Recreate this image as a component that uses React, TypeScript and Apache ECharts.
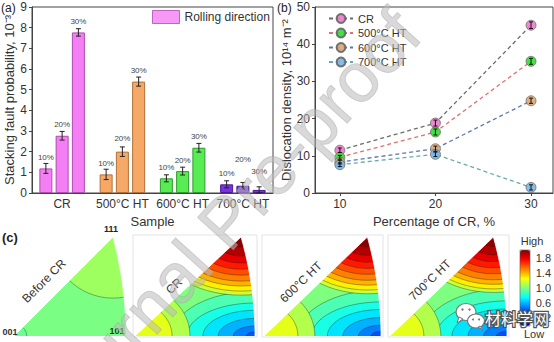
import React, { useEffect, useRef } from 'react';
import * as echarts from 'echarts';

// ---------- (a) stacking fault probability ----------
const samples = ['CR', '500°C HT', '600°C HT', '700°C HT'];
const reductionLabels = ['10%', '20%', '30%'];
const sfp10 = [1.19, 0.9, 0.71, 0.42];
const sfp20 = [2.77, 2.0, 1.06, 0.35];
const sfp30 = [7.77, 5.39, 2.19, 0.15];
const sfpErr10 = [0.24, 0.25, 0.17, 0.17];
const sfpErr20 = [0.21, 0.23, 0.19, 0.16];
const sfpErr30 = [0.18, 0.22, 0.21, 0.15];

// ---------- (b) dislocation density ----------
const crPercent = [10, 20, 30];
const rhoNames = ['CR', '500°C HT', '600°C HT', '700°C HT'];
const rhoCR = [11.5, 18.8, 45.1];
const rho500 = [9.6, 16.4, 35.4];
const rho600 = [8.3, 11.9, 24.8];
const rho700 = [7.6, 10.4, 1.5];
const rhoErrCR = [0.6, 0.8, 0.9];
const rhoErr500 = [0.5, 0.8, 0.8];
const rhoErr600 = [0.5, 0.7, 0.7];
const rhoErr700 = [0.5, 0.6, 0.7];

// ---------- (c) inverse pole figure contour bands: [x, y, rx, ry, level] ----------
const ipfTitles = ['Before CR', 'CR', '600°C HT', '700°C HT'];
const ipfBefore = [
  [0.2, 0.18, 1.0, 1.0, 0.99],
  [0.366, 0.366, 0.229, 0.226, 1.06],
  [0, 0, 0.047, 0.044, 0.96],
];
const ipfCR = [
  [0.2, 0.18, 1.0, 1.0, 1.0],
  [0.4142, 0, 0.285, 0.165, 0.9],
  [0.4142, 0, 0.235, 0.122, 0.8],
  [0.4142, 0, 0.18, 0.095, 0.7],
  [0.4142, 0, 0.127, 0.065, 0.6],
  [0.4142, 0, 0.075, 0.037, 0.5],
  [0.4142, 0, 0.03, 0.015, 0.42],
  [0, 0, 0.19, 0.185, 1.1],
  [0, 0, 0.128, 0.122, 1.2],
  [0.366, 0.366, 0.3, 0.215, 1.15],
  [0.366, 0.366, 0.28, 0.2, 1.28],
  [0.366, 0.366, 0.254, 0.181, 1.4],
  [0.366, 0.366, 0.228, 0.163, 1.5],
  [0.366, 0.366, 0.197, 0.141, 1.6],
  [0.366, 0.366, 0.166, 0.119, 1.7],
  [0.366, 0.366, 0.135, 0.096, 1.8],
  [0.366, 0.366, 0.098, 0.07, 1.9],
  [0.366, 0.366, 0.052, 0.037, 1.98],
];
const ipf600 = [
  [0.2, 0.18, 1.0, 1.0, 1.0],
  [0.4142, 0, 0.295, 0.17, 0.9],
  [0.4142, 0, 0.245, 0.126, 0.8],
  [0.4142, 0, 0.19, 0.098, 0.7],
  [0.4142, 0, 0.135, 0.068, 0.6],
  [0.4142, 0, 0.08, 0.04, 0.5],
  [0.4142, 0, 0.035, 0.017, 0.4],
  [0, 0, 0.18, 0.18, 1.1],
  [0, 0, 0.12, 0.115, 1.2],
  [0.366, 0.366, 0.29, 0.21, 1.15],
  [0.366, 0.366, 0.272, 0.196, 1.28],
  [0.366, 0.366, 0.248, 0.178, 1.4],
  [0.366, 0.366, 0.222, 0.16, 1.5],
  [0.366, 0.366, 0.193, 0.138, 1.6],
  [0.366, 0.366, 0.162, 0.116, 1.7],
  [0.366, 0.366, 0.13, 0.093, 1.8],
  [0.366, 0.366, 0.095, 0.068, 1.9],
  [0.366, 0.366, 0.05, 0.036, 1.98],
];
const ipf700 = [
  [0.2, 0.18, 1.0, 1.0, 1.0],
  [0.4142, 0, 0.3, 0.175, 0.9],
  [0.4142, 0, 0.25, 0.13, 0.8],
  [0.4142, 0, 0.195, 0.1, 0.7],
  [0.4142, 0, 0.138, 0.07, 0.6],
  [0.4142, 0, 0.083, 0.042, 0.5],
  [0.4142, 0, 0.037, 0.018, 0.4],
  [0, 0, 0.18, 0.18, 1.1],
  [0, 0, 0.12, 0.115, 1.2],
  [0.366, 0.366, 0.285, 0.205, 1.15],
  [0.366, 0.366, 0.268, 0.192, 1.28],
  [0.366, 0.366, 0.245, 0.175, 1.4],
  [0.366, 0.366, 0.22, 0.158, 1.5],
  [0.366, 0.366, 0.19, 0.136, 1.6],
  [0.366, 0.366, 0.16, 0.114, 1.7],
  [0.366, 0.366, 0.128, 0.091, 1.8],
  [0.366, 0.366, 0.093, 0.066, 1.9],
  [0.366, 0.366, 0.05, 0.035, 1.98],
];
const ipfFields = [ipfBefore, ipfCR, ipf600, ipf700];
// contour labels: [x, y, text, rotation]
const ipfLabelsBefore = [[0.315, 0.163, '1.008', -12]];
const ipfLabelsCR = [[0.287, 0.158, '1.005', -6], [0.245, 0.108, '0.798', 12]];
const ipfLabels600 = [[0.287, 0.159, '1.005', -6], [0.255, 0.108, '0.798', 12]];
const ipfLabels700 = [[0.29, 0.163, '1.005', -6], [0.2, 0.112, '0.798', 12]];
const ipfLabels = [ipfLabelsBefore, ipfLabelsCR, ipfLabels600, ipfLabels700];
const colorbarTicks = [0.2, 0.6, 1.0, 1.4, 1.8];

// ---------- styles ----------
const FONT = "'Liberation Sans', Arial, Helvetica, sans-serif";
const TXT = '#333';
const sampleFill = ['#f47ef4', '#f6a866', '#56ec52', '#7b30e6'];
const sampleEdge = ['#b04ab0', '#b0703a', '#2f9a2f', '#4a1a99'];
const rhoMarker = ['#ec7ccb', '#33dd33', '#dba673', '#78b6e6'];
const rhoLine = ['#6c6c6c', '#e07272', '#5878b0', '#68aca8'];
const jet = ['#00007f', '#0000ff', '#007fff', '#00ffff', '#7fff7f', '#ffff00', '#ff7f00', '#ff0000', '#7f0000'];
const BAR_W = 13;
const BAR_STEP = 16.25;
const ipfBoxes = [
  { left: 14, top: 237, width: 112, height: 99 },
  { left: 135, top: 237, width: 120, height: 99 },
  { left: 264, top: 237, width: 117, height: 99 },
  { left: 390, top: 237, width: 117, height: 99 },
];
const titlePos = [
  [44, 281, 45],
  [174, 286, 43],
  [301, 282, 44],
  [430, 280, 44],
];

export default function App() {
  const ref = useRef<HTMLDivElement>(null);
  useEffect(() => {
    document.body.style.margin = '0';
    const chart = echarts.init(ref.current as HTMLDivElement, null, { renderer: 'svg' });

    const sfpAll = [sfp10, sfp20, sfp30];
    const errAll = [sfpErr10, sfpErr20, sfpErr30];
    const labelDist = [
      [7, 7, 7, 7],
      [7, 9, 7, 22],
      [7, 7, 7, 14],
    ];
    const barSeries = sfpAll.map((arr, k) => ({
      type: 'bar',
      name: reductionLabels[k],
      xAxisIndex: 0,
      yAxisIndex: 0,
      barWidth: BAR_W,
      barGap: '25%',
      data: arr.map((v, i) => ({
        value: v,
        itemStyle: { color: sampleFill[i], borderColor: sampleEdge[i], borderWidth: 1 },
        label: { distance: labelDist[k][i] },
      })),
      label: {
        show: true,
        position: 'top',
        formatter: reductionLabels[k],
        fontSize: 8,
        color: '#444',
      },
      silent: true,
    }));
    const errA: number[][] = [];
    sfpAll.forEach((arr, k) => arr.forEach((v, i) => errA.push([i, v, errAll[k][i], k])));

    const rhoAll = [rhoCR, rho500, rho600, rho700];
    const rhoErrAll = [rhoErrCR, rhoErr500, rhoErr600, rhoErr700];
    const lineSeries = rhoAll.map((arr, s) => ({
      type: 'line',
      name: rhoNames[s],
      xAxisIndex: 1,
      yAxisIndex: 1,
      data: crPercent.map((x, i) => [x, arr[i]]),
      symbol: 'circle',
      symbolSize: 10,
      itemStyle: { color: rhoMarker[s], borderColor: '#666', borderWidth: 0.8, opacity: 0.9 },
      lineStyle: { color: rhoLine[s], width: 1.3, type: [4, 3] },
      z: 3 + s * 0.01,
      silent: true,
    }));
    const errB: number[][] = [];
    rhoAll.forEach((arr, s) => arr.forEach((v, i) => errB.push([crPercent[i], v, rhoErrAll[s][i]])));

    const bandSeries = ipfFields.map((field, p) => ({
      type: 'custom',
      xAxisIndex: 2 + p,
      yAxisIndex: 2 + p,
      data: field,
      clip: true,
      silent: true,
      z: 2,
      renderItem: (params: any, api: any) => {
        const c = api.coord([api.value(0), api.value(1)]);
        const s = api.size([api.value(2), api.value(3)]);
        return {
          type: 'ellipse',
          shape: { cx: c[0], cy: c[1], rx: s[0], ry: s[1] },
          style: { fill: api.visual('color'), stroke: 'rgba(25,25,25,0.6)', lineWidth: 0.6 },
        };
      },
    }));

    const arcPts: number[][] = [];
    for (let a = 15; a >= 0; a -= 0.5) {
      const r = (a * Math.PI) / 180;
      arcPts.push([-1 + Math.SQRT2 * Math.cos(r), Math.SQRT2 * Math.sin(r)]);
    }
    const rightMask = [...arcPts, [0.7, 0], [0.7, 0.6], [0.366, 0.6]];
    const leftMask = [[0, 0], [0.366, 0.366], [0.366, 0.6], [-0.3, 0.6], [-0.3, 0]];
    const maskSeries = ipfFields.map((_f, p) => ({
      type: 'custom',
      xAxisIndex: 2 + p,
      yAxisIndex: 2 + p,
      data: [[0, 0]],
      clip: true,
      silent: true,
      z: 3,
      renderItem: (params: any, api: any) => ({
        type: 'group',
        children: [leftMask, rightMask].map((pts) => ({
          type: 'polygon',
          shape: { points: pts.map((q) => api.coord(q)) },
          style: { fill: '#fff', stroke: '#fff', lineWidth: 0.8 },
        })),
      }),
    }));
    const labelSeries = ipfLabels.map((labs, p) => ({
      type: 'scatter',
      xAxisIndex: 2 + p,
      yAxisIndex: 2 + p,
      symbolSize: 1,
      itemStyle: { opacity: 0 },
      silent: true,
      z: 4,
      data: labs.map((l) => ({ value: [l[0], l[1]], name: l[2], label: { rotate: l[3] } })),
      label: { show: true, position: 'inside', formatter: '{b}', fontSize: 5, color: '#111' },
    }));

    const nBefore = 3 + 1 + 1 + 4 + 1;
    const bandIdx = [nBefore, nBefore + 1, nBefore + 2, nBefore + 3];

    const ipfXAxes = ipfBoxes.map((_b, p) => ({ gridIndex: 2 + p, type: 'value', min: 0, max: 0.4142, show: false }));
    const ipfYAxes = ipfBoxes.map((_b, p) => ({ gridIndex: 2 + p, type: 'value', min: 0, max: 0.366, show: false }));

    const mid = { textVerticalAlign: 'middle', verticalAlign: 'middle' };
    const ctr = { textAlign: 'center', align: 'center', textVerticalAlign: 'middle', verticalAlign: 'middle' };
    const graphics: any[] = [
      { type: 'text', x: 1, y: 8, z: 50, style: { text: '(a)', fontSize: 12, fill: '#222', fontFamily: FONT, ...mid } },
      { type: 'text', x: 277, y: 8, z: 50, style: { text: '(b)', fontSize: 12, fill: '#222', fontFamily: FONT, ...mid } },
      { type: 'text', x: 2, y: 237, z: 50, style: { text: '(c)', fontSize: 13, fontWeight: 'bold', fill: '#222', fontFamily: FONT, ...mid } },
      { type: 'text', x: 111, y: 229, z: 50, style: { text: '111', fontSize: 9, fontWeight: 'bold', fill: '#222', fontFamily: FONT, ...ctr } },
      { type: 'text', x: 10, y: 332, z: 50, style: { text: '001', fontSize: 9, fontWeight: 'bold', fill: '#333', fontFamily: FONT, ...ctr } },
      { type: 'text', x: 117, y: 331, z: 50, style: { text: '101', fontSize: 9, fontWeight: 'bold', fill: '#1d3d1d', fontFamily: FONT, ...ctr } },
      { type: 'text', x: 532, y: 241, z: 50, style: { text: 'High', fontSize: 11, fill: TXT, fontFamily: FONT, ...ctr } },
      { type: 'text', x: 534, y: 334, z: 50, style: { text: 'Low', fontSize: 11, fill: TXT, fontFamily: FONT, ...ctr } },
      { type: 'rect', z: 50, shape: { x: 520, y: 250, width: 10, height: 76 }, style: { fill: 'none', stroke: '#555', lineWidth: 0.6 } },
    ];
    ipfBoxes.forEach((b, p) => {
      if (p > 0) {
        graphics.push({
          type: 'rect',
          shape: { x: b.left - 2, y: b.top - 2, width: b.width + 4, height: b.height + 3 },
          style: { fill: 'none', stroke: '#e3e3e3', lineWidth: 1 },
          z: 40,
        });
      }
      const t = titlePos[p];
      graphics.push({
        type: 'text',
        x: t[0],
        y: t[1],
        rotation: (t[2] * Math.PI) / 180,
        style: { text: ipfTitles[p], fontSize: 12, fill: '#333', fontFamily: FONT, ...ctr },
        z: 50,
      });
    });
    // watermark
    graphics.push({
      type: 'text',
      x: 226,
      y: 222,
      rotation: (48 * Math.PI) / 180,
      silent: true,
      style: {
        text: 'Journal Pre-proof',
        fontSize: 70,
        fontFamily: FONT,
        fill: 'rgba(185,185,185,0.55)',
        stroke: 'rgba(150,150,150,0.4)',
        lineWidth: 1,
        ...ctr,
      },
      z: 200,
    });
    // wechat logo
    graphics.push({
      type: 'group',
      z: 210,
      children: [
        { type: 'ellipse', shape: { cx: 466, cy: 312, rx: 10, ry: 8.5 }, style: { fill: '#fff', stroke: '#777', lineWidth: 1.2 }, z: 210 },
        { type: 'polygon', shape: { points: [[459, 317], [457, 323], [463, 319]] }, style: { fill: '#fff', stroke: '#777', lineWidth: 1 }, z: 210 },
        { type: 'ellipse', shape: { cx: 476, cy: 321, rx: 8.5, ry: 7 }, style: { fill: '#fff', stroke: '#777', lineWidth: 1.2 }, z: 211 },
        { type: 'polygon', shape: { points: [[480, 326], [483, 330], [478, 327]] }, style: { fill: '#fff', stroke: '#777', lineWidth: 1 }, z: 211 },
        { type: 'circle', shape: { cx: 462.5, cy: 309.5, r: 1.2 }, style: { fill: '#777' }, z: 212 },
        { type: 'circle', shape: { cx: 469.5, cy: 309.5, r: 1.2 }, style: { fill: '#777' }, z: 212 },
        { type: 'circle', shape: { cx: 473, cy: 319.5, r: 1 }, style: { fill: '#777' }, z: 212 },
        { type: 'circle', shape: { cx: 479, cy: 319.5, r: 1 }, style: { fill: '#777' }, z: 212 },
        { type: 'text', x: 485, y: 318, style: { text: '材料学网', fontSize: 16, fontFamily: "'Noto Sans CJK SC', sans-serif", fill: '#555', stroke: '#555', lineWidth: 2.5, ...mid }, z: 212 },
        { type: 'text', x: 485, y: 318, style: { text: '材料学网', fontSize: 16, fontFamily: "'Noto Sans CJK SC', sans-serif", fill: '#fff', ...mid }, z: 213 },
      ],
    });

    const option: any = {
      animation: false,
      textStyle: { fontFamily: FONT },
      grid: [
        { left: 32, top: 7, width: 241, height: 186, show: true, borderColor: '#444', borderWidth: 1 },
        { left: 315, top: 7, width: 238, height: 186, show: true, borderColor: '#444', borderWidth: 1 },
        ...ipfBoxes.map((b) => ({ left: b.left, top: b.top, width: b.width, height: b.height })),
        { left: 520, top: 250, width: 10, height: 76 },
      ],
      xAxis: [
        {
          gridIndex: 0,
          type: 'category',
          data: samples,
          axisTick: { show: false },
          axisLine: { lineStyle: { color: '#444' } },
          axisLabel: { fontSize: 12, color: TXT, margin: 5, interval: 0 },
          name: 'Sample',
          nameLocation: 'middle',
          nameGap: 16,
          nameTextStyle: { fontSize: 13, color: TXT },
        },
        {
          gridIndex: 1,
          type: 'value',
          min: 7.4,
          max: 32.3,
          axisLine: { lineStyle: { color: '#444' } },
          axisTick: { customValues: crPercent, length: 3 },
          axisLabel: { customValues: crPercent, fontSize: 12, color: TXT, margin: 5 },
          splitLine: { show: false },
          name: 'Percentage of CR, %',
          nameLocation: 'middle',
          nameGap: 17,
          nameTextStyle: { fontSize: 13, color: TXT },
        },
        ...ipfXAxes,
        { gridIndex: 6, type: 'value', show: false, min: 0, max: 1 },
      ],
      yAxis: [
        {
          gridIndex: 0,
          type: 'value',
          min: 0,
          max: 9,
          interval: 1,
          axisLine: { show: true, lineStyle: { color: '#444' } },
          axisTick: { show: true, length: 3 },
          axisLabel: { fontSize: 12, color: TXT, margin: 5 },
          splitLine: { show: false },
          name: 'Stacking fault probability, 10⁻³',
          nameLocation: 'middle',
          nameGap: 14,
          nameTextStyle: { fontSize: 13, color: TXT },
        },
        {
          gridIndex: 1,
          type: 'value',
          min: 0,
          max: 50,
          interval: 10,
          axisLine: { show: true, lineStyle: { color: '#444' } },
          axisTick: { show: true, length: 3 },
          axisLabel: { fontSize: 12, color: TXT, margin: 5 },
          splitLine: { show: false },
          name: 'Dislocation density, 10¹⁴ m⁻²',
          nameLocation: 'middle',
          nameGap: 20,
          nameTextStyle: { fontSize: 13, color: TXT },
        },
        ...ipfYAxes,
        {
          gridIndex: 6,
          type: 'value',
          min: 0,
          max: 2,
          position: 'right',
          axisLine: { show: false },
          axisTick: { show: true, customValues: colorbarTicks, length: 4, lineStyle: { color: '#333' } },
          axisLabel: { customValues: colorbarTicks, formatter: (v: number) => v.toFixed(1), fontSize: 11, color: TXT, margin: 6 },
          splitLine: { show: false },
        },
      ],
      legend: [
        {
          data: [{ name: 'Rolling direction', icon: 'rect', itemStyle: { color: sampleFill[0], borderColor: sampleEdge[0], borderWidth: 1 } }],
          left: 152,
          top: 10,
          padding: 0,
          itemWidth: 27,
          itemHeight: 13,
          selectedMode: false,
          textStyle: { fontSize: 12, color: TXT },
        },
        {
          data: rhoNames,
          orient: 'vertical',
          left: 328,
          top: 13,
          padding: 0,
          itemWidth: 24,
          itemHeight: 11,
          itemGap: 3.5,
          selectedMode: false,
          textStyle: { fontSize: 11, color: TXT },
        },
      ],
      visualMap: {
        type: 'continuous',
        min: 0,
        max: 2,
        dimension: 4,
        seriesIndex: bandIdx,
        inRange: { color: jet },
        orient: 'vertical',
        left: 520,
        top: 250,
        padding: 0,
        itemWidth: 10,
        itemHeight: 76,
        calculable: false,
        hoverLink: false,
        show: true,
      },
      series: [
        ...barSeries,
        {
          type: 'custom',
          xAxisIndex: 0,
          yAxisIndex: 0,
          data: errA,
          silent: true,
          z: 5,
          renderItem: (params: any, api: any) => {
            const i = api.value(0);
            const v = api.value(1);
            const e = api.value(2);
            const k = api.value(3);
            const hi = api.coord([i, v + e]);
            const lo = api.coord([i, v - e]);
            const x = hi[0] + (k - 1) * BAR_STEP;
            const st = { stroke: '#222', lineWidth: 1 };
            return {
              type: 'group',
              children: [
                { type: 'line', shape: { x1: x, y1: hi[1], x2: x, y2: lo[1] }, style: st },
                { type: 'line', shape: { x1: x - 2.5, y1: hi[1], x2: x + 2.5, y2: hi[1] }, style: st },
                { type: 'line', shape: { x1: x - 2.5, y1: lo[1], x2: x + 2.5, y2: lo[1] }, style: st },
              ],
            };
          },
        },
        { type: 'scatter', name: 'Rolling direction', xAxisIndex: 0, yAxisIndex: 0, data: [], itemStyle: { color: sampleFill[0] } },
        ...lineSeries,
        {
          type: 'custom',
          xAxisIndex: 1,
          yAxisIndex: 1,
          data: errB,
          silent: true,
          z: 6,
          renderItem: (params: any, api: any) => {
            const hi = api.coord([api.value(0), api.value(1) + api.value(2)]);
            const lo = api.coord([api.value(0), api.value(1) - api.value(2)]);
            const st = { stroke: '#111', lineWidth: 1 };
            return {
              type: 'group',
              children: [
                { type: 'line', shape: { x1: hi[0], y1: hi[1], x2: lo[0], y2: lo[1] }, style: st },
                { type: 'line', shape: { x1: hi[0] - 2, y1: hi[1], x2: hi[0] + 2, y2: hi[1] }, style: st },
                { type: 'line', shape: { x1: lo[0] - 2, y1: lo[1], x2: lo[0] + 2, y2: lo[1] }, style: st },
              ],
            };
          },
        },
        ...bandSeries,
        ...maskSeries,
        ...labelSeries,
      ],
      graphic: graphics,
    };
    chart.setOption(option);
    return () => chart.dispose();
  }, []);
  return <div ref={ref} style={{ position: 'absolute', left: 0, top: 0, width: 554, height: 342 }} />;
}
